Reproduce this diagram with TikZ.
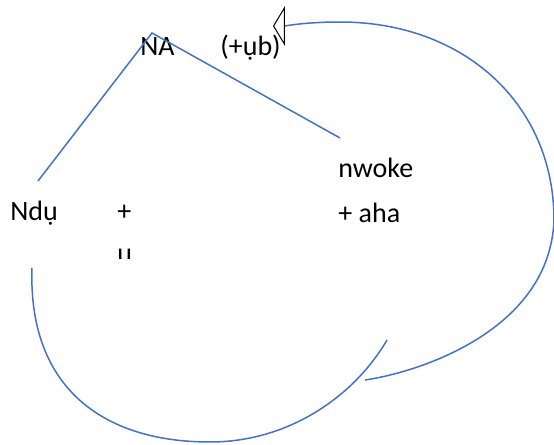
\documentclass[tikz,border=0pt]{standalone}
\usepackage{fontspec}
\setmainfont{Carlito}
\usepackage{tikz}
\usetikzlibrary{arrows.meta}
\definecolor{igBlue}{HTML}{4472C4}
\tikzset{
  tree word/.style={font=\fontsize{14}{17}\selectfont,inner sep=0pt,anchor=base west},
  tree branch/.style={draw=igBlue,line width=0.75pt},
  loop curve/.style={draw=igBlue,line width=0.75pt},
  loop arrow/.style={-{Triangle[open,length=6pt,width=20pt,color=black,line width=0.5pt]}}
}
\begin{document}
\begin{tikzpicture}[x=0.5pt,y=-0.5pt]
\useasboundingbox (0,0) rectangle (554,445);
% words
\node[tree word] (na) at (140,55) {NA};
\node[tree word] (ub) at (220,55) {(+ụb)};
\node[tree word] (ndu) at (10,220) {Ndụ};
\node[tree word] (plus) at (117,220) {+};
\begin{scope}
  \clip (100,230) rectangle (150,258);
  \node[tree word] (cut) at (117,263) {u};
\end{scope}
\node[tree word] (nwoke) at (338,177) {nwoke};
\node[tree word] (aha) at (338,222) {+ aha};
% branches
\coordinate (apex) at (152,33);
\coordinate (lleaf) at (38,181);
\coordinate (rleaf) at (340,138);
\draw[tree branch] (lleaf) -- (apex) -- (rleaf);
% lower loop
\coordinate (lowstart) at (32,268);
\coordinate (lowbottom) at (210,442);
\coordinate (lowend) at (387,340);
\draw[loop curve] (lowstart) .. controls (28,385) and (100,442) .. (lowbottom)
  .. controls (290,442) and (355,395) .. (lowend);
% upper loop with arrow
\coordinate (upstart) at (365,380);
\coordinate (upright) at (554,220);
\coordinate (uptop) at (340,22);
\coordinate (uptip) at (273,26);
\draw[loop curve,loop arrow] (upstart) .. controls (420,372) and (550,330) .. (upright)
  .. controls (554,105) and (465,22) .. (uptop)
  .. controls (305,22) and (285,26) .. (uptip);
\end{tikzpicture}
\end{document}
